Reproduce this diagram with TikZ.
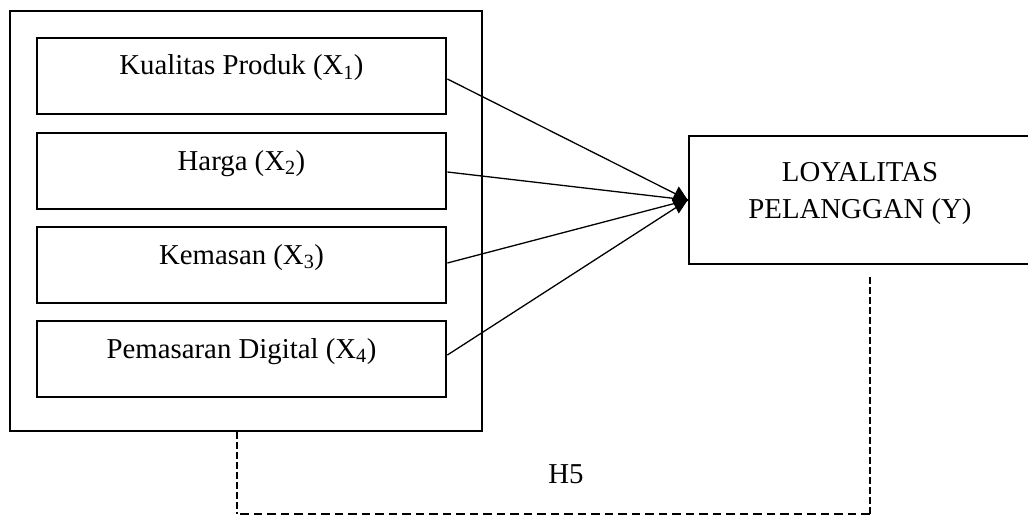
\documentclass[tikz,border=0pt]{standalone}
\usepackage{fontspec}
\setmainfont{Liberation Serif}
\begin{document}
\begin{tikzpicture}[x=1pt, y=-1pt,
  every node/.style={font=\fontsize{28.8}{36}\selectfont},
  groupbox/.style={draw, line width=2pt, minimum width=472pt, minimum height=420pt, inner sep=0pt},
  varbox/.style={draw, line width=2.8pt, minimum width=409pt, minimum height=76pt,
    inner sep=0pt, text height=20pt, text depth=22pt},
  depbox/.style={draw, line width=2.5pt, minimum width=342pt, minimum height=128pt,
    inner sep=0pt, align=center, text height=56pt, text depth=20pt},
  conn/.style={line width=1.3pt},
  vdash/.style={line width=2.2pt, dash pattern=on 7pt off 3pt},
  hdash/.style={line width=2.2pt, dash pattern=on 8.5pt off 5pt}]
\useasboundingbox (0,0) rectangle (1028,516);

% independent variables grouped in one frame
\node[groupbox] (grp) at (246,221) {};
\node[varbox] (x1) at (241.5,76)  {Kualitas Produk (X\textsubscript{1})};
\node[varbox] (x2) at (241.5,171) {Harga (X\textsubscript{2})};
\node[varbox] (x3) at (241.5,265) {Kemasan (X\textsubscript{3})};
\node[varbox] (x4) at (241.5,359) {Pemasaran Digital (X\textsubscript{4})};

% dependent variable
\node[depbox] (ly) at (860,200) {LOYALITAS\\PELANGGAN (Y)};

% paths into the dependent variable
\draw[conn] ([yshift=-3pt]x1.east) -- (ly.west);
\draw[conn] ([yshift=-1pt]x2.east) -- (ly.west);
\draw[conn] ([yshift=2pt]x3.east) -- (ly.west);
\draw[conn] ([yshift=4pt]x4.east) -- (ly.west);
\fill (ly.west) -- ++(-9,-13.5) -- ++(-7,13.5) -- ++(7,13.5) -- cycle;

% simultaneous hypothesis H5
\coordinate (hl) at (237,514);
\coordinate (hr) at (870,514);
\draw[vdash] (grp.south -| hl) -- (hl);
\draw[hdash] ([xshift=3pt]hl) -- (hr);
\draw[vdash] (hr) -- ([yshift=-10pt]ly.south -| hr);
\node[anchor=base] (h5) at (566,483) {H5};
\end{tikzpicture}
\end{document}
